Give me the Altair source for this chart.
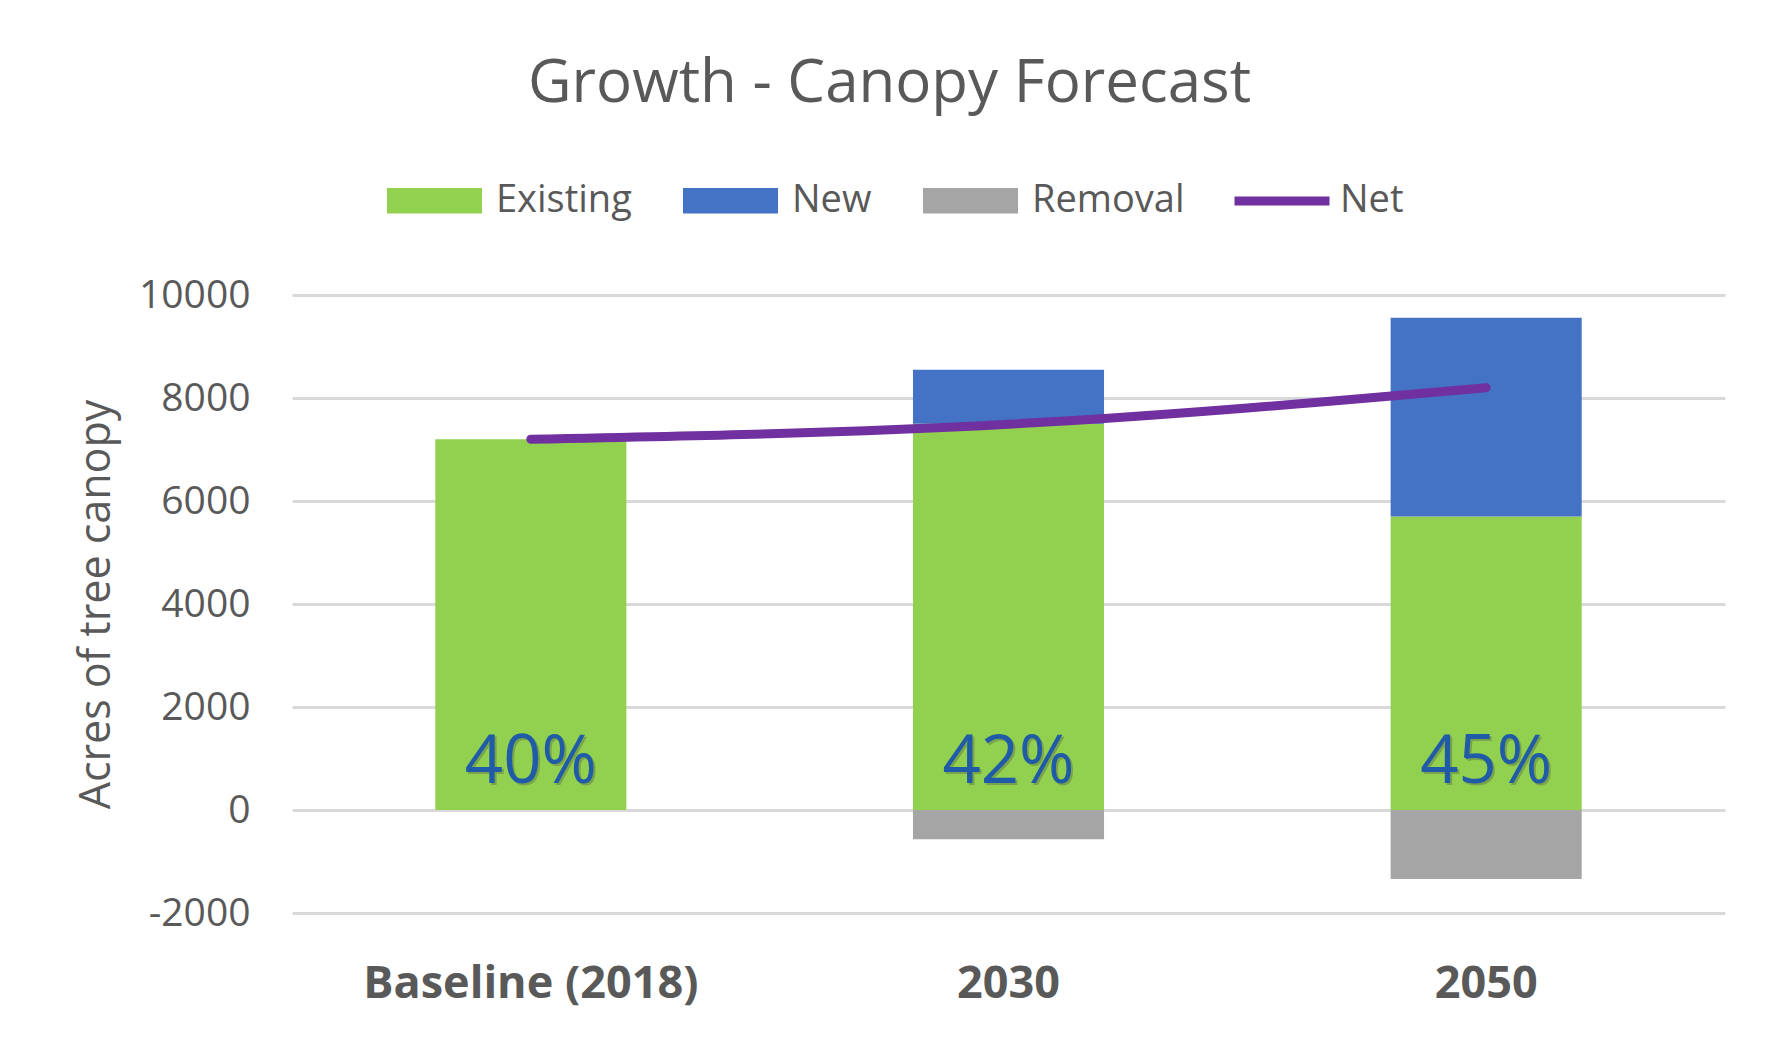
import altair as alt
import pandas as pd

categories = ["Baseline (2018)", "2030", "2050"]
existing = [7200, 7500, 5700]
new = [0, 1050, 3860]
removal = [0, -570, -1340]
net = [7200, 7490, 8200]
pct_labels = ["40%", "42%", "45%"]
series = ["Existing", "New", "Removal"]
series_colors = ["#92D050", "#4472C4", "#A5A5A5"]
net_name = "Net"
net_color = "#7030A0"
y_ticks = [-2000, 0, 2000, 4000, 6000, 8000, 10000]

rows = []
for i, c in enumerate(categories):
    for j, (s, vals) in enumerate(zip(series, [existing, new, removal])):
        rows.append({"category": c, "series": s, "value": vals[i], "order": j})
bar_df = pd.DataFrame(rows)
net_df = pd.DataFrame({"category": categories, "net": net, "name": [net_name] * len(categories)})
label_df = pd.DataFrame({"category": categories, "label": pct_labels})

FONT = "Open Sans"
GREY = "#595959"

x_enc = alt.X(
    "category:N",
    sort=categories,
    scale=alt.Scale(paddingInner=0.6, paddingOuter=0.3),
    axis=alt.Axis(
        title=None, labelAngle=0, domain=False, ticks=False, grid=False,
        labelFont=FONT, labelFontSize=45, labelFontWeight="bold", labelColor=GREY,
        labelPadding=48, labelLimit=0,
    ),
)
y_scale = alt.Scale(domain=[-2000, 10000], nice=False, zero=False)

bars = alt.Chart(bar_df).mark_bar().encode(
    x=x_enc,
    y=alt.Y(
        "value:Q", stack="zero", scale=y_scale,
        axis=alt.Axis(
            values=y_ticks, labelExpr="'' + datum.value", domain=False, ticks=False,
            grid=True, gridColor="#D9D9D9", gridWidth=3,
            labelFont=FONT, labelFontSize=39, labelColor=GREY, labelPadding=42,
            title="Acres of tree canopy", titleFont=FONT, titleFontSize=43,
            titleFontWeight="normal", titleColor=GREY, titlePadding=20,
        ),
    ),
    fill=alt.Fill(
        "series:N",
        scale=alt.Scale(domain=series, range=series_colors),
        legend=alt.Legend(
            title=None, orient="none", direction="horizontal",
            legendX=95, legendY=-142, padding=0,
            symbolType="M-1,-0.27H1V0.27H-1Z", symbolSize=9025, symbolStrokeWidth=0,
            labelFont=FONT, labelFontSize=38, labelColor=GREY, labelOffset=14,
            columnPadding=51,
        ),
    ),
    order=alt.Order("order:Q"),
)

line = alt.Chart(net_df).mark_line(strokeWidth=9, strokeCap="round", interpolate="monotone").encode(
    x=alt.X("category:N", sort=categories),
    y=alt.Y("net:Q", scale=y_scale),
    stroke=alt.Stroke(
        "name:N",
        scale=alt.Scale(domain=[net_name], range=[net_color]),
        legend=alt.Legend(
            title=None, orient="none", direction="horizontal",
            legendX=938, legendY=-146, padding=0,
            symbolType="stroke", symbolSize=9025, symbolStrokeWidth=9,
            labelFont=FONT, labelFontSize=38, labelColor=GREY, labelOffset=6,
        ),
    ),
)

shadow = alt.Chart(label_df).mark_text(
    font=FONT, fontSize=67, color="#404040", opacity=0.3,
    baseline="alphabetic", dx=2, dy=-25,
).encode(x=alt.X("category:N", sort=categories), y=alt.datum(0), text="label:N")

labels = alt.Chart(label_df).mark_text(
    font=FONT, fontSize=67, color="#1F5BA6",
    baseline="alphabetic", dy=-27,
).encode(x=alt.X("category:N", sort=categories), y=alt.datum(0), text="label:N")

chart = alt.layer(bars, line, shadow, labels).properties(
    width=1433,
    height=618,
    background="white",
    title=alt.Title(
        "Growth - Canopy Forecast", font=FONT, fontSize=60, fontWeight="normal",
        color=GREY, anchor="middle", dx=-119, offset=34,
    ),
    autosize=alt.AutoSizeParams(type="none"),
    padding={"left": 284, "top": 287, "right": 47, "bottom": 117},
).configure_view(stroke=None)

chart.save("out.html", embed_options={"renderer": "svg", "actions": False})
